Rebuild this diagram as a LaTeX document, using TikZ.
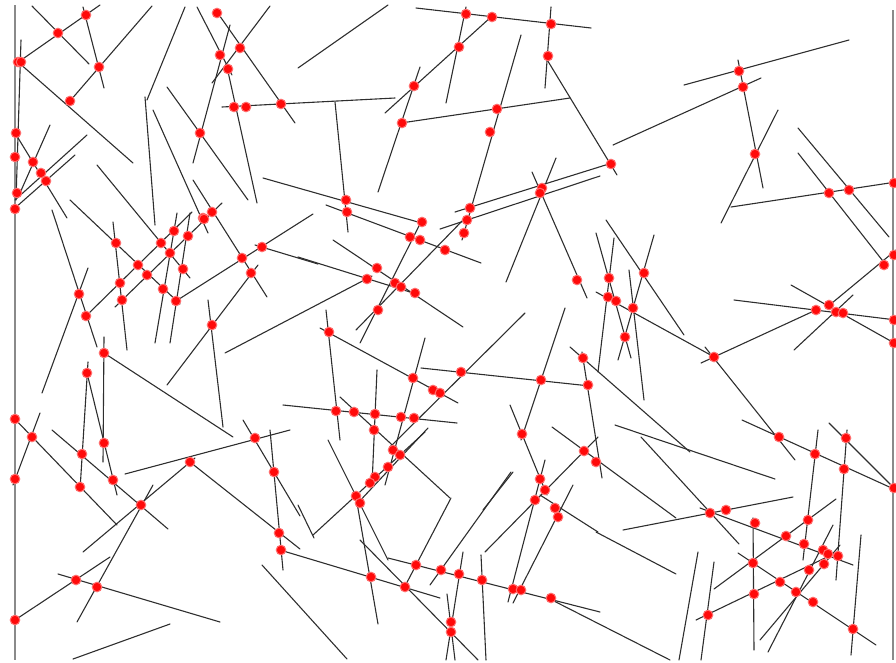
\documentclass[tikz,border=0pt]{standalone}
\usepackage{tikz}
\definecolor{trait}{HTML}{2E2E2E}
\definecolor{bordC}{HTML}{8A8A8A}
\definecolor{rougeP}{HTML}{FF0A0A}
\tikzset{
  seg/.style={draw=trait, line width=1.1pt, line cap=round},
  bord/.style={draw=bordC, line width=2pt},
  inter/.style={fill=rougeP, draw=rougeP!60!white, line width=1pt},
}
\begin{document}
\begin{tikzpicture}[x=1pt, y=-1pt]
  \useasboundingbox (0,0) rectangle (896,662);
  \draw[bord] (15,5) -- (15,660);
  \draw[bord] (893,10) -- (893,660);
  \foreach \xa/\ya/\xb/\yb in {
    32/6/89/64, 100/5/17/63, 83/7/104/88, 152/6/70/101, 18/62/133/163,
    21/40/16/200, 50/125/20/193, 87/135/15/200, 75/155/15/208, 15/133/67/218,
    97/165/190/278, 70/200/180/304, 145/97/155/225, 185/7/147/100, 153/110/208/233,
    167/87/248/200, 230/25/193/163, 270/6/212/83, 217/12/295/123, 197/7/232/75,
    227/67/257/203, 222/107/395/98, 263/178/425/224, 326/205/481/263, 298/68/388/5,
    416/8/591/28, 466/7/446/103, 491/17/385/113, 420/67/378/192, 401/123/570/98,
    521/35/462/240, 551/7/545/88, 546/58/617/175, 335/102/348/232, 455/212/612/163,
    440/229/600/176, 556/158/506/282, 532/172/587/298, 684/85/849/40, 613/145/761/78,
    738/60/763/188, 778/110/721/223, 731/207/896/182, 798/128/889/237, 798/153/886/265,
    86/316/192/212, 115/307/222/203, 177/213/155/343, 190/213/170/343, 193/180/267/297,
    258/265/167/385, 255/245/318/264, 176/301/313/214, 52/210/97/347, 88/268/42/393,
    113/222/127/350, 225/353/372/276, 298/257/410/292, 333/240/463/327, 360/343/423/218,
    356/330/465/218, 326/310/340/440, 320/328/458/403, 425/338/385/485, 421/368/590/386,
    525/313/390/447, 565/308/521/440, 510/405/547/495, 582/352/602/478, 570/347/690/452,
    552/427/676/518, 598/437/485/552, 513/472/483/510, 573/485/513/603, 545/460/508/602,
    540/495/598/532, 328/440/388/560, 298/505/314/538, 313/535/425/432, 356/497/378/624,
    377/370/372/485, 340/397/450/498, 451/498/403/590, 428/428/356/505, 511/472/430/585,
    283/405/457/423, 280/550/440/598, 388/558/600/612, 262/565/347/659, 360/540/478/660,
    463/552/446/660, 447/594/455/660, 481/555/486/660, 58/574/220/622, 40/413/13/485,
    12/416/117/525, 52/430/168/529, 88/362/80/490, 87/373/117/495, 104/337/103/462,
    125/474/290/430, 83/552/195/458, 190/462/300/549, 243/420/300/516, 270/430/283/570,
    153/485/77/622, 15/620/110/557, 73/659/170/624, 208/300/223/427, 104/353/233/437,
    596/233/631/358, 614/238/598/372, 606/220/684/335, 654/235/618/360, 629/270/644/400,
    596/292/716/358, 705/347/795/460, 701/363/816/310, 734/300/896/320, 791/285/896/344,
    794/350/853/295, 826/308/896/250, 615/425/775/479, 641/437/739/544, 623/530/793/497,
    700/508/853/565, 596/532/676/574, 548/598/670/660, 698/552/679/660, 714/562/701/660,
    696/620/825/558, 714/589/836/499, 753/518/754/650, 818/430/803/560, 847/430/836/580,
    742/420/896/490, 829/423/896/490, 861/535/851/655, 833/525/768/652, 840/545/760/640,
    738/553/876/645}
    \draw[seg] (\xa,\ya) -- (\xb,\yb);
  \foreach \px/\py in {
    86/15, 58/33, 18/62, 21/62, 99/67, 70/101, 16/133, 15/157, 33/162, 41/173,
    46/181, 17/193, 15/209, 217/13, 240/48, 220/55, 228/69, 234/107, 246/107, 281/104,
    200/133, 203/218, 212/212, 466/14, 492/17, 551/24, 459/47, 548/56, 414/86, 402/123,
    497/109, 490/132, 346/200, 347/212, 422/222, 470/208, 467/220, 542/188, 540/193,
    739/71, 743/87, 755/154, 611/164, 829/193, 849/190, 894/183,
    116/243, 138/265, 120/283, 122/300, 147/275, 161/243, 170/253, 174/231, 188/236,
    204/219, 163/289, 176/301, 183/269, 242/258, 262/247, 251/273, 212/325, 79/294,
    86/316, 104/353, 87/373,
    410/237, 420/240, 445/250, 464/233, 377/268, 367/279, 395/283, 401/287, 415/293,
    378/310, 329/332, 413/378, 433/390, 440/393, 461/372, 541/380, 588/385, 583/358,
    577/280, 336/411, 354/412, 375/414, 401/417, 414/418, 374/430, 522/434,
    609/278, 644/273, 608/297, 616/301, 633/308, 625/337, 714/357, 816/310, 829/305,
    836/312, 843/313, 884/265, 894/255, 894/320, 894/343, 779/437, 846/438,
    15/419, 32/437, 104/443, 255/438, 82/454, 80/487, 113/480, 141/505, 190/462,
    274/472, 279/533, 281/550, 76/580, 97/587, 15/620, 15/479,
    393/450, 400/455, 388/467, 375/477, 370/483, 356/496, 360/503, 416/565, 441/570,
    459/574, 482/580, 371/577, 405/587, 451/622, 451/632, 513/589, 521/590, 551/598,
    540/479, 545/490, 535/500, 555/508, 558/517, 584/451, 596/462,
    815/454, 844/469, 894/488, 710/513, 726/510, 755/523, 786/536, 808/520, 804/544,
    823/550, 828/554, 838/556, 824/564, 809/570, 753/563, 780/582, 796/592, 813/602,
    754/594, 708/615, 853/629}
    \filldraw[inter] (\px,\py) circle (4.8pt);
\end{tikzpicture}
\end{document}
